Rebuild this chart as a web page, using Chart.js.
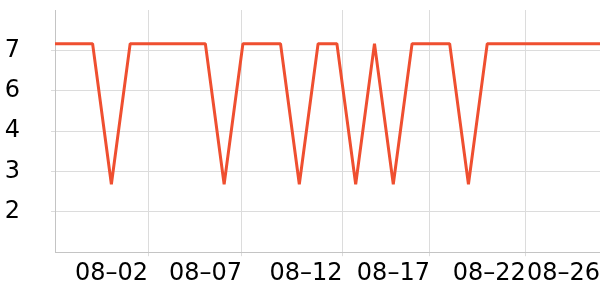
<!DOCTYPE html>
<html>
<head>
<meta charset="utf-8">
<script src="https://cdn.jsdelivr.net/npm/chart.js@4/dist/chart.umd.min.js"></script>
<style>
  html, body { margin: 0; padding: 0; background: #fff; }
  #box { width: 600px; height: 300px; }
</style>
</head>
<body>
<div id="box"><canvas id="grafico"></canvas></div>
<script>
// Datas (dias seguidos, 07-28 a 08-26)
const dias = ['07–28', '07–29', '07–30', '07–31', '08–01', '08–02', '08–03', '08–04', '08–05', '08–06',
              '08–07', '08–08', '08–09', '08–10', '08–11', '08–12', '08–13', '08–14', '08–15', '08–16',
              '08–17', '08–18', '08–19', '08–20', '08–21', '08–22', '08–23', '08–24', '08–25', '08–26'];
const valores = [7, 7, 7, 2.82, 7, 7, 7, 7, 7, 2.82,
                 7, 7, 7, 2.82, 7, 7, 2.82, 7, 2.82, 7,
                 7, 7, 2.82, 7, 7, 7, 7, 7, 7, 7];

// Marcas do eixo x (posição em dias desde 07-28) e seus textos
const xTickPos = [4.95, 9.95, 15.3, 19.95, 25.05, 29];
const xTickLabels = ['08–02', '08–07', '08–12', '08–17', '08–22', '08–26'];

// Marcas do eixo y
const yTickValues = [6.8, 5.6, 4.4, 3.2, 2.0];
const yTickLabels = ['7', '6', '4', '3', '2'];

const pontos = dias.map((d, i) => ({ x: i, y: valores[i] }));

const fonte = { family: 'DejaVu Sans', size: 24 };

// tira o espaço extra que o Chart.js reserva para os textos das pontas
function semPadding(s) {
    s.paddingLeft = 0;
    s.paddingRight = 0;
    s.paddingTop = 0;
    s.paddingBottom = 0;
}

const ctx = document.getElementById('grafico').getContext('2d');
const chart = new Chart(ctx, {
    type: 'line',
    data: {
        datasets: [{
            label: 'Valor',
            data: pontos,
            borderColor: '#ef4f30',
            borderWidth: 3,
            borderJoinStyle: 'bevel',
            pointRadius: 0,
            tension: 0,
            fill: false
        }]
    },
    options: {
        responsive: true,
        maintainAspectRatio: false,
        animation: false,
        layout: { padding: { top: 10, left: 4, right: 0, bottom: 9 } },
        plugins: {
            legend: { display: false },
            tooltip: { enabled: false }
        },
        scales: {
            x: {
                type: 'linear',
                min: 0,
                max: dias.length - 1,
                afterBuildTicks: (s) => { s.ticks = xTickPos.map(v => ({ value: v })); },
                afterFit: semPadding,
                ticks: {
                    align: 'end',
                    maxRotation: 0,
                    autoSkip: false,
                    padding: 3,
                    color: '#000',
                    font: fonte,
                    callback: (v, i) => xTickLabels[i]
                },
                grid: { color: '#dcdcdc', tickLength: 4 },
                border: { color: '#c4c4c4' }
            },
            y: {
                type: 'linear',
                min: 0.8,
                max: 8.0,
                afterBuildTicks: (s) => { s.ticks = yTickValues.map(v => ({ value: v })); },
                afterFit: (s) => { semPadding(s); s.width = 51; },
                ticks: {
                    padding: 31,
                    color: '#000',
                    font: fonte,
                    callback: (v, i) => yTickLabels[i]
                },
                grid: { color: '#dcdcdc', tickLength: 4 },
                border: { color: '#c4c4c4' }
            }
        }
    }
});
</script>
</body>
</html>
